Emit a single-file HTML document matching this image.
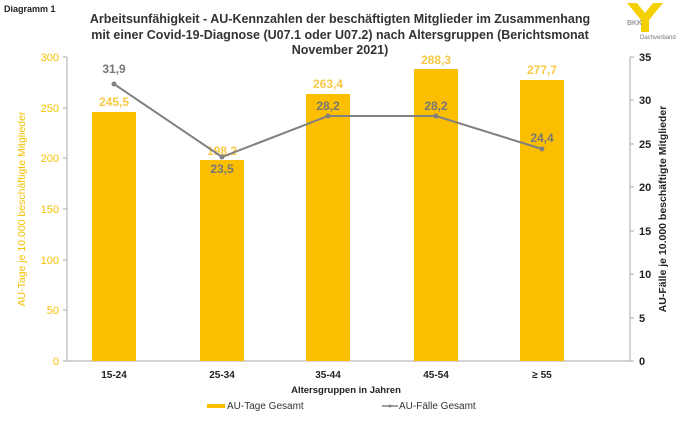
<!DOCTYPE html>
<html><head><meta charset="utf-8"><style>
body{margin:0;background:#fff;}
svg text{font-family:"Liberation Sans",sans-serif;}
</style></head><body>
<svg width="682" height="421" viewBox="0 0 682 421" xmlns="http://www.w3.org/2000/svg">
<rect width="682" height="421" fill="#fff"/>
<text x="4" y="12" font-size="9" font-weight="bold" fill="#222">Diagramm 1</text>
<g font-size="12.5" font-weight="bold" fill="#333" text-anchor="middle">
<text x="340" y="23">Arbeitsunfähigkeit - AU-Kennzahlen der beschäftigten Mitglieder im Zusammenhang</text>
<text x="340" y="39">mit einer Covid-19-Diagnose (U07.1 oder U07.2) nach Altersgruppen (Berichtsmonat</text>
<text x="340" y="54">November 2021)</text>
</g>
<!-- logo -->
<polygon points="627,3 637,3 645,13 653,3 663,3 649,20 649,32 641,32 641,20" fill="#f5d000"/>
<text x="627" y="25" font-size="7" font-weight="bold" fill="#999">BKK</text>
<text x="640" y="39" font-size="6" fill="#777">Dachverband</text>
<!-- axes -->
<line x1="67" y1="57" x2="67" y2="361" stroke="#aaa"/>
<line x1="630" y1="57" x2="630" y2="361" stroke="#aaa"/>
<line x1="67" y1="361" x2="630" y2="361" stroke="#aaa"/>
<g stroke="#aaa">
<line x1="63" y1="57" x2="67" y2="57"/><line x1="63" y1="108" x2="67" y2="108"/><line x1="63" y1="158" x2="67" y2="158"/><line x1="63" y1="209" x2="67" y2="209"/><line x1="63" y1="260" x2="67" y2="260"/><line x1="63" y1="310" x2="67" y2="310"/><line x1="63" y1="361" x2="67" y2="361"/>
<line x1="630" y1="57" x2="634" y2="57"/><line x1="630" y1="100" x2="634" y2="100"/><line x1="630" y1="144" x2="634" y2="144"/><line x1="630" y1="187" x2="634" y2="187"/><line x1="630" y1="231" x2="634" y2="231"/><line x1="630" y1="274" x2="634" y2="274"/><line x1="630" y1="318" x2="634" y2="318"/><line x1="630" y1="361" x2="634" y2="361"/>
</g>
<g font-size="11" fill="#f5c000" text-anchor="end">
<text x="59" y="61">300</text><text x="59" y="112">250</text><text x="59" y="162">200</text><text x="59" y="213">150</text><text x="59" y="264">100</text><text x="59" y="314">50</text><text x="59" y="365">0</text>
</g>
<g font-size="11" font-weight="bold" fill="#222">
<text x="639" y="61">35</text><text x="639" y="104">30</text><text x="639" y="148">25</text><text x="639" y="191">20</text><text x="639" y="235">15</text><text x="639" y="278">10</text><text x="639" y="322">5</text><text x="639" y="365">0</text>
</g>
<text transform="translate(25,209) rotate(-90)" font-size="10.5" fill="#f5c000" text-anchor="middle">AU-Tage je 10.000 beschäftigte Mitglieder</text>
<text transform="translate(666,209) rotate(-90)" font-size="10.5" font-weight="bold" fill="#222" text-anchor="middle">AU-Fälle je 10.000 beschäftigte Mitglieder</text>
<!-- bars -->
<g fill="#fbbf00">
<rect x="92" y="112" width="44" height="249"/>
<rect x="200" y="160" width="44" height="201"/>
<rect x="306" y="94" width="44" height="267"/>
<rect x="414" y="69" width="44" height="292"/>
<rect x="520" y="80" width="44" height="281"/>
</g>
<g font-size="12" font-weight="bold" fill="#f9c846" text-anchor="middle">
<text x="114" y="106">245,5</text><text x="222" y="155">198,2</text><text x="328" y="88">263,4</text><text x="436" y="64">288,3</text><text x="542" y="74">277,7</text>
</g>
<polyline points="114,84 222,157 328,116 436,116 542,149" fill="none" stroke="#808080" stroke-width="2"/>
<g fill="#808080"><circle cx="114" cy="84" r="2.5"/><circle cx="222" cy="157" r="2.5"/><circle cx="328" cy="116" r="2.5"/><circle cx="436" cy="116" r="2.5"/><circle cx="542" cy="149" r="2.5"/></g>
<g font-size="12" font-weight="bold" fill="#777" text-anchor="middle">
<text x="114" y="73">31,9</text><text x="222" y="173">23,5</text><text x="328" y="110">28,2</text><text x="436" y="110">28,2</text><text x="542" y="142">24,4</text>
</g>
<g font-size="10" font-weight="bold" fill="#222" text-anchor="middle">
<text x="114" y="378">15-24</text><text x="222" y="378">25-34</text><text x="328" y="378">35-44</text><text x="436" y="378">45-54</text><text x="542" y="378">≥ 55</text>
</g>
<text x="346" y="393" font-size="9.5" font-weight="bold" fill="#222" text-anchor="middle">Altersgruppen  in Jahren</text>
<rect x="207" y="404" width="18" height="4" fill="#fbbf00"/>
<text x="227" y="409" font-size="10" fill="#333">AU-Tage Gesamt</text>
<line x1="382" y1="406" x2="398" y2="406" stroke="#808080" stroke-width="1.5"/><circle cx="390" cy="406" r="1.5" fill="#808080"/>
<text x="399" y="409" font-size="10" fill="#333">AU-Fälle Gesamt</text>
</svg>
</body></html>
